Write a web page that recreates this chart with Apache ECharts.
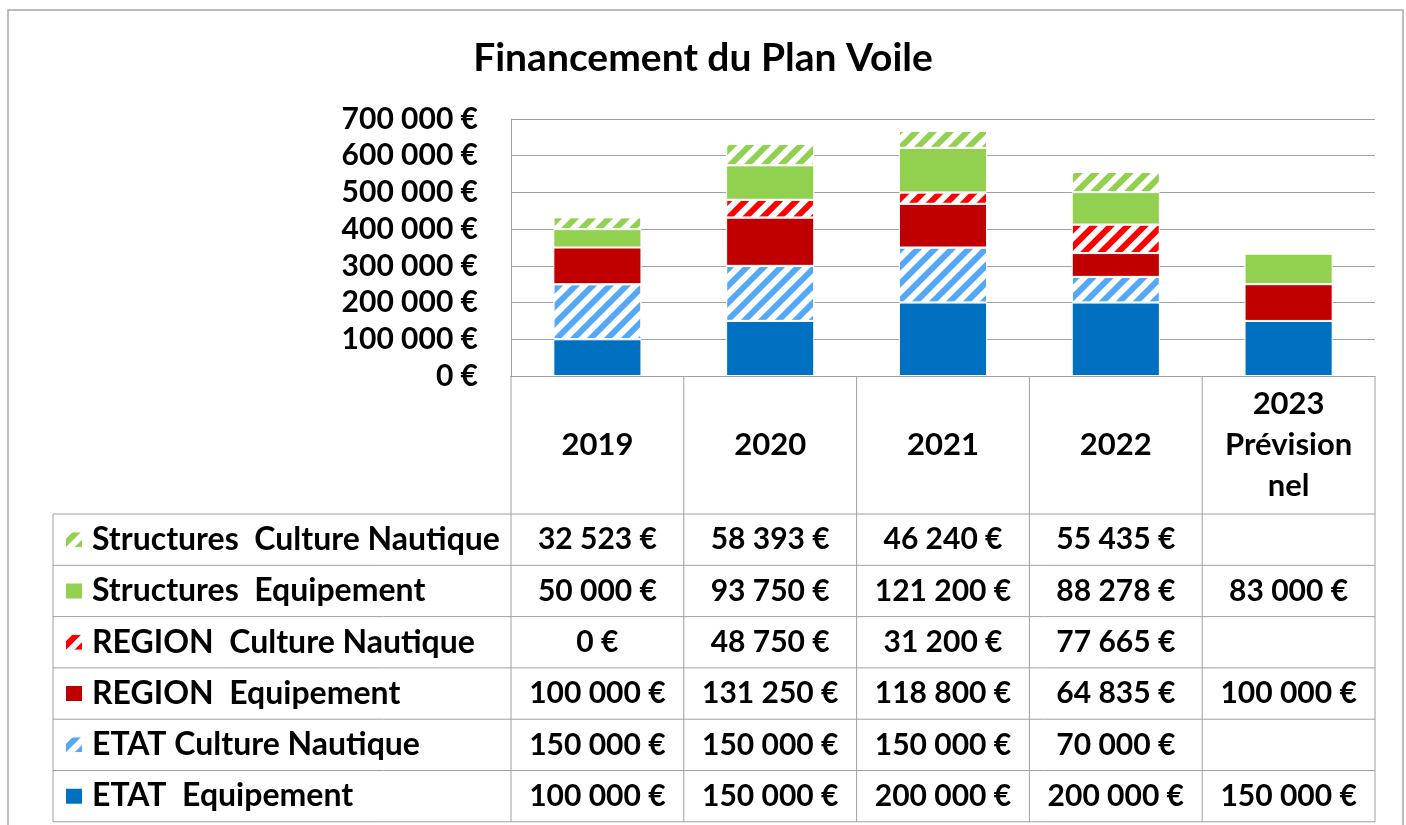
<!DOCTYPE html>
<html><head><meta charset="utf-8">
<script src="https://cdn.jsdelivr.net/npm/echarts@6/dist/echarts.min.js"></script>
<style>html,body{margin:0;padding:0;background:#fff}#c{width:1406px;height:825px}</style>
</head><body><div id="c"></div>
<script>
// ---- data ----
const categories = ['2019', '2020', '2021', '2022', '2023'];
const headerLabels = ['2019', '2020', '2021', '2022', '2023\nPrévision\nnel'];
const seriesNames = ['ETAT  Equipement', 'ETAT Culture Nautique', 'REGION  Equipement', 'REGION  Culture Nautique', 'Structures  Equipement', 'Structures  Culture Nautique'];
const etatEquipement = [100000, 150000, 200000, 200000, 150000];
const etatCulture = [150000, 150000, 150000, 70000, null];
const regionEquipement = [100000, 131250, 118800, 64835, 100000];
const regionCulture = [0, 48750, 31200, 77665, null];
const structEquipement = [50000, 93750, 121200, 88278, 83000];
const structCulture = [32523, 58393, 46240, 55435, null];
const yMin = 0, yMax = 700000, yInterval = 100000;

// ---- style ----
const FONT = 'Lato';
const seriesData = [etatEquipement, etatCulture, regionEquipement, regionCulture, structEquipement, structCulture];
const colors = ['#0070C0', '#55A8F8', '#C00000', '#FF0000', '#92D050', '#92D050'];
const hatched = [false, true, false, true, false, true];
const gridLeft = 511, gridRight = 31, gridTop = 119, gridHeight = 257;
const headerH = 138, rowH = 51.3, tableLeft = 53;
const lineColor = '#a0a0a0';
const fsNum = 30, fsHead = 31, fsLegend = 32, fsTitle = 39;

function fmt(v) {
  if (v === null || v === undefined) return '';
  return String(v).replace(/\B(?=(\d{3})+(?!\d))/g, ' ') + ' €';
}

const chart = echarts.init(document.getElementById('c'), null, {renderer: 'canvas'});

const series = seriesData.map((d, i) => ({
  name: seriesNames[i],
  type: 'bar',
  stack: 'total',
  data: d,
  barWidth: '51%',
  itemStyle: Object.assign({color: colors[i], borderColor: '#ffffff', borderWidth: 1},
    hatched[i] ? {decal: {symbol: 'rect', symbolSize: 1, dashArrayX: [1, 0], dashArrayY: [6, 6], rotation: -Math.PI / 4, color: '#ffffff'}} : {})
}));

chart.setOption({
  animation: false,
  backgroundColor: '#ffffff',
  title: {text: 'Financement du Plan Voile', left: 'center', top: 34,
    textStyle: {fontFamily: FONT, fontWeight: 'bold', fontSize: fsTitle, color: '#000'}},
  grid: {left: gridLeft, right: gridRight, top: gridTop, height: gridHeight, containLabel: false},
  xAxis: {type: 'category', data: categories, axisLabel: {show: false}, axisTick: {show: false},
    axisLine: {show: true, lineStyle: {color: lineColor, width: 1}}},
  yAxis: {type: 'value', min: yMin, max: yMax, interval: yInterval,
    axisLabel: {formatter: fmt, fontFamily: FONT, fontWeight: 'bold', fontSize: fsNum, color: '#000', margin: 33},
    axisLine: {show: true, lineStyle: {color: lineColor, width: 1}},
    axisTick: {show: false},
    splitLine: {lineStyle: {color: lineColor, width: 1}}},
  series: series
});

// ---- data table built from axis positions ----
const y0 = chart.convertToPixel({yAxisIndex: 0}, 0);
const centers = categories.map(c => chart.convertToPixel({xAxisIndex: 0}, c));
const colW = centers[1] - centers[0];
const colLeft = centers[0] - colW / 2;
const colRight = centers[centers.length - 1] + colW / 2;
const rowsTop = y0 + headerH;
const nRows = seriesNames.length;
const tableBottom = rowsTop + nRows * rowH;

const g = [];
g.push({type: 'rect', shape: {x: 8, y: 10, width: 1395, height: 840}, style: {fill: 'none', stroke: '#a6a6a6', lineWidth: 1.5}, silent: true});
for (let i = 0; i <= categories.length; i++) {
  const x = colLeft + i * colW;
  g.push({type: 'line', shape: {x1: x, y1: y0, x2: x, y2: tableBottom}, style: {stroke: lineColor, lineWidth: 1}});
}
g.push({type: 'line', shape: {x1: tableLeft, y1: rowsTop, x2: tableLeft, y2: tableBottom}, style: {stroke: lineColor, lineWidth: 1}});
for (let r = 0; r <= nRows; r++) {
  const y = rowsTop + r * rowH;
  g.push({type: 'line', shape: {x1: tableLeft, y1: y, x2: colRight, y2: y}, style: {stroke: lineColor, lineWidth: 1}});
}
headerLabels.forEach((t, i) => {
  g.push({type: 'text', x: centers[i], y: y0 + headerH / 2,
    style: {text: t, align: 'center', verticalAlign: 'middle', font: `bold ${fsHead}px ${FONT}`, lineHeight: 41, fill: '#000'}});
});
const legends = [];
for (let r = 0; r < nRows; r++) {
  const si = nRows - 1 - r;
  const cy = rowsTop + r * rowH + rowH / 2;
  seriesData[si].forEach((v, i) => {
    g.push({type: 'text', x: centers[i], y: cy,
      style: {text: fmt(v), align: 'center', verticalAlign: 'middle', font: `bold ${fsNum}px ${FONT}`, fill: '#000'}});
  });
  legends.push({data: [seriesNames[si]], orient: 'horizontal', left: tableLeft + 11, top: cy - 17,
    padding: 0, itemWidth: 18, itemHeight: 17, icon: 'rect', selectedMode: false,
    textStyle: {fontFamily: FONT, fontWeight: 'bold', fontSize: fsLegend, color: '#000', lineHeight: 34, padding: [0, 0, 0, 4]}});
}

chart.setOption({legend: legends, graphic: g});
</script>
</body></html>
